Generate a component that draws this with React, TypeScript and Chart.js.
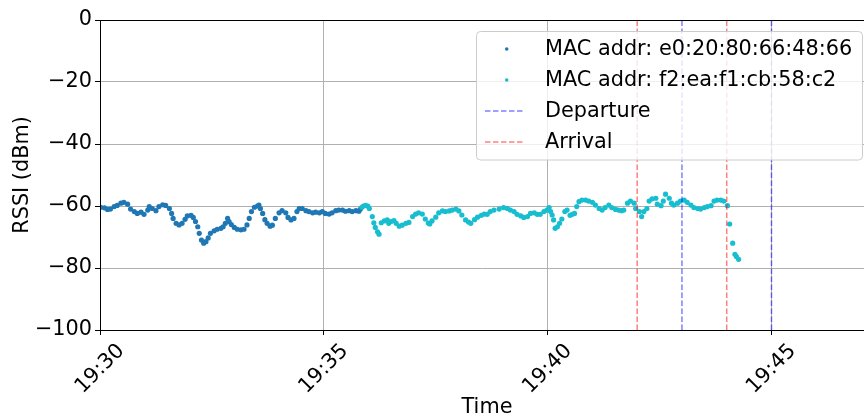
import { useEffect, useRef } from "react";
import { Chart, registerables } from "chart.js";

Chart.register(...registerables);

// Clock time at x = 0; every x value below is seconds after this moment.
const DAY_START = "19:30";

// Tag e0:20:80:66:48:66 — seconds after 19:30 and RSSI in dBm.
const tagATimes = [
  1, 6, 10, 14, 19, 23, 28, 32, 37, 41, 46, 50, 55, 59, 64, 66, 70, 75, 79, 84,
  88, 93, 96, 98, 102, 106, 110, 114, 117, 122, 125, 128, 131, 133, 136, 139, 142, 145, 148, 153,
  157, 162, 165, 168, 171, 173, 176, 180, 184, 189, 193, 197, 200, 203, 207, 211, 213, 215, 218, 221,
  224, 228, 231, 235, 240, 244, 249, 252, 256, 260, 264, 267, 271, 276, 280, 285, 289, 294, 298, 302,
  307, 311, 316, 320, 325, 329, 334, 338, 343, 347, 349,
];
const tagARssi = [
  -60.4, -60.6, -61.1, -61.0, -60.2, -59.8, -59.1, -58.8, -59.4, -61.0, -61.8, -62.4, -62.0, -62.7, -61.3, -60.2, -60.8, -61.5, -60.2, -59.6,
  -59.8, -60.8, -62.4, -64.0, -65.6, -66.1, -65.6, -64.3, -63.2, -63.0, -63.7, -65.0, -66.7, -68.8, -71.0, -72.0, -71.5, -70.3, -68.8, -68.0,
  -67.5, -67.2, -66.7, -65.6, -64.0, -65.0, -66.0, -66.9, -67.5, -67.7, -67.5, -66.1, -64.0, -61.8, -60.4, -60.0, -59.7, -60.8, -62.4, -64.4,
  -65.6, -66.5, -66.2, -64.0, -62.2, -61.5, -62.2, -63.7, -64.5, -64.0, -61.8, -60.8, -60.8, -61.5, -61.8, -62.2, -62.0, -62.2, -61.8, -62.4,
  -62.6, -62.2, -61.5, -61.3, -61.3, -61.7, -61.5, -61.8, -61.5, -61.7, -61.0,
];

// Tag f2:ea:f1:cb:58:c2 — seconds after 19:30 and RSSI in dBm.
const tagBTimes = [
  351, 353, 356, 359, 361, 365, 367, 369, 372, 374, 377, 381, 385, 387, 390, 394, 397, 401, 405, 410,
  414, 419, 423, 427, 432, 436, 440, 442, 445, 450, 454, 459, 463, 468, 472, 477, 481, 485, 490, 494,
  497, 502, 506, 511, 515, 519, 523, 528, 535, 541, 546, 550, 555, 559, 564, 568, 573, 577, 582, 586,
  590, 595, 599, 602, 604, 606, 608, 610, 613, 616, 619, 623, 626, 630, 633, 636, 639, 642, 646, 651,
  655, 660, 664, 669, 673, 677, 682, 686, 691, 695, 699, 702, 707, 711, 716, 718, 723, 726, 729, 733,
  736, 740, 745, 747, 752, 755, 758, 763, 766, 769, 774, 778, 783, 787, 792, 796, 801, 805, 810, 814,
  819, 823, 827, 832, 836, 841, 844, 848, 851, 853, 856,
];
const tagBRssi = [
  -60.4, -60.0, -59.8, -60.0, -60.8, -63.4, -65.4, -66.9, -68.3, -69.1, -65.4, -64.8, -64.5, -65.6, -65.0, -64.7, -65.6, -66.5, -66.2, -65.6,
  -65.3, -63.4, -62.6, -62.2, -62.6, -64.2, -65.5, -65.8, -64.8, -63.6, -62.2, -61.6, -61.8, -61.6, -61.3, -61.0, -61.6, -62.9, -64.5, -65.2,
  -65.6, -64.4, -63.6, -63.0, -62.6, -62.7, -61.8, -61.3, -61.0, -60.5, -60.8, -61.3, -61.8, -62.7, -63.2, -63.7, -63.4, -62.4, -62.2, -62.7,
  -62.7, -61.8, -61.3, -60.5, -61.8, -62.9, -64.5, -67.2, -66.7, -65.6, -64.2, -61.8, -61.3, -63.0, -62.7, -62.4, -60.2, -58.6, -58.1, -58.1,
  -58.4, -58.8, -59.7, -60.8, -61.3, -60.5, -59.7, -60.5, -61.1, -61.3, -61.5, -61.3, -59.1, -58.4, -59.1, -60.8, -61.8, -63.4, -61.8, -60.8,
  -58.4, -57.7, -57.5, -59.4, -59.9, -58.4, -56.2, -57.5, -59.1, -59.7, -59.1, -58.4, -58.1, -58.8, -59.7, -60.5, -60.8, -61.0, -60.5, -60.2,
  -59.9, -58.4, -58.1, -58.1, -58.4, -59.9, -65.8, -72.0, -75.6, -76.3, -77.2,
];

const seriesLabels = ["MAC addr: e0:20:80:66:48:66", "MAC addr: f2:ea:f1:cb:58:c2"];
const departureTimes = ["19:43", "19:45"];
const arrivalTimes = ["19:42", "19:44"];
const xTickLabels = ["19:30", "19:35", "19:40", "19:45"];
const yTickValues = [0, -20, -40, -60, -80, -100];
const eventLabels = ["Departure", "Arrival"];

const COLOR_A = "#1f77b4";
const COLOR_B = "#17becf";
const COLOR_DEPART = "rgba(0, 0, 255, 0.5)";
const COLOR_ARRIVE = "rgba(255, 0, 0, 0.5)";
const FONT_FAMILY = "'DejaVu Sans', sans-serif";
const FONT_SIZE = 20.8;
const FONT = `${FONT_SIZE}px ${FONT_FAMILY}`;
const DASH = [5.5, 2.5];
const X_MAX = 1024;

function toSeconds(clock: string): number {
  const [h, m] = clock.split(":").map(Number);
  const [h0, m0] = DAY_START.split(":").map(Number);
  return (h * 60 + m - (h0 * 60 + m0)) * 60;
}

function points(times: number[], values: number[]) {
  return times.map((t, i) => ({ x: t, y: values[i] }));
}

function eventLine(clock: string, color: string) {
  const x = toSeconds(clock);
  return {
    type: "line" as const,
    data: [
      { x, y: yTickValues[yTickValues.length - 1] },
      { x, y: yTickValues[0] },
    ],
    borderColor: color,
    borderWidth: 1.5,
    borderDash: DASH,
    pointRadius: 0,
    showLine: true,
    fill: false,
    order: 0,
  };
}

// Spines, rotated time labels, axis titles and the legend box.
const decorations = {
  id: "decorations",
  afterDraw(chart: any) {
    const { ctx, chartArea } = chart;
    const xs = chart.scales.x;
    const { left, right, top, bottom } = chartArea;

    ctx.save();
    ctx.strokeStyle = "#000";
    ctx.lineWidth = 1;
    ctx.beginPath();
    ctx.moveTo(Math.round(left) + 0.5, top);
    ctx.lineTo(Math.round(left) + 0.5, bottom + 0.5);
    ctx.moveTo(left, Math.round(top) + 0.5);
    ctx.lineTo(chart.width, Math.round(top) + 0.5);
    ctx.moveTo(left, Math.round(bottom) + 0.5);
    ctx.lineTo(chart.width, Math.round(bottom) + 0.5);
    ctx.stroke();

    ctx.fillStyle = "#000";
    ctx.font = FONT;

    // x tick labels, rotated 45 degrees and centred under each tick
    ctx.textAlign = "center";
    ctx.textBaseline = "middle";
    for (const label of xTickLabels) {
      const x = xs.getPixelForValue(toSeconds(label));
      ctx.save();
      ctx.translate(x, bottom + 39);
      ctx.rotate(-Math.PI / 4);
      ctx.fillText(label, 0, 0);
      ctx.restore();
    }

    // axis titles
    ctx.save();
    ctx.translate(22.5, (top + bottom) / 2);
    ctx.rotate(-Math.PI / 2);
    ctx.fillText("RSSI (dBm)", 0, 0);
    ctx.restore();
    ctx.textBaseline = "alphabetic";
    ctx.fillText("Time", (left + right) / 2 + 5, 413);

    // legend
    const bx = 476.5, by = 31.5, bw = 386, bh = 128.5;
    ctx.beginPath();
    ctx.roundRect(bx, by, bw, bh, 4);
    ctx.fillStyle = "rgba(255,255,255,0.8)";
    ctx.fill();
    ctx.strokeStyle = "#cccccc";
    ctx.lineWidth = 1;
    ctx.stroke();

    const rowBase = 55;
    const rowGap = 31;
    const rows = [
      { kind: "dot", color: COLOR_A, text: seriesLabels[0] },
      { kind: "dot", color: COLOR_B, text: seriesLabels[1] },
      { kind: "dash", color: COLOR_DEPART, text: eventLabels[0] },
      { kind: "dash", color: COLOR_ARRIVE, text: eventLabels[1] },
    ];
    rows.forEach((row, i) => {
      const base = rowBase + i * rowGap;
      const mid = base - 6;
      if (row.kind === "dot") {
        ctx.beginPath();
        ctx.arc(506.7, mid, 1.8, 0, Math.PI * 2);
        ctx.fillStyle = row.color;
        ctx.fill();
      } else {
        ctx.save();
        ctx.strokeStyle = row.color;
        ctx.lineWidth = 1.5;
        ctx.setLineDash(DASH);
        ctx.beginPath();
        ctx.moveTo(485, mid);
        ctx.lineTo(525, mid);
        ctx.stroke();
        ctx.restore();
      }
      ctx.fillStyle = "#000";
      ctx.textAlign = "left";
      ctx.fillText(row.text, 545, base);
    });
    ctx.restore();
  },
};

export default function App() {
  const canvasRef = useRef<HTMLCanvasElement | null>(null);

  useEffect(() => {
    const canvas = canvasRef.current;
    if (!canvas) return;
    const xTickValues = xTickLabels.map(toSeconds);

    const chart = new Chart(canvas, {
      type: "scatter",
      data: {
        datasets: [
          ...departureTimes.map((t) => eventLine(t, COLOR_DEPART)),
          ...arrivalTimes.map((t) => eventLine(t, COLOR_ARRIVE)),
          {
            label: seriesLabels[0],
            data: points(tagATimes, tagARssi),
            backgroundColor: COLOR_A,
            borderWidth: 0,
            pointRadius: 2.6,
            order: 2,
          },
          {
            label: seriesLabels[1],
            data: points(tagBTimes, tagBRssi),
            backgroundColor: COLOR_B,
            borderWidth: 0,
            pointRadius: 2.6,
            order: 1,
          },
        ] as any,
      },
      options: {
        animation: false,
        responsive: false,
        events: [],
        layout: { autoPadding: false, padding: { top: 20, right: 0, bottom: 0, left: 0 } },
        plugins: { legend: { display: false }, tooltip: { enabled: false } },
        scales: {
          x: {
            type: "linear",
            min: 0,
            max: X_MAX,
            afterFit: (s: any) => {
              s.height = 87;
              s.paddingLeft = 0;
              s.paddingRight = 0;
            },
            afterBuildTicks: (s: any) => {
              s.ticks = xTickValues.map((v) => ({ value: v }));
            },
            ticks: { display: false },
            grid: { color: "#b0b0b0", lineWidth: 1, drawTicks: true, tickLength: 5, tickColor: "#000" },
            border: { display: true, color: "#000", width: 1 },
          },
          y: {
            type: "linear",
            min: yTickValues[yTickValues.length - 1],
            max: yTickValues[0],
            afterFit: (s: any) => {
              s.width = 100;
              s.paddingLeft = 0;
              s.paddingRight = 0;
            },
            afterBuildTicks: (s: any) => {
              s.ticks = yTickValues.map((v) => ({ value: v }));
            },
            ticks: {
              color: "#000",
              padding: 3,
              font: { family: FONT_FAMILY, size: FONT_SIZE },
              callback: (v: any) => (Number(v) === 0 ? "0" : `\u2212${Math.abs(Number(v))}`),
            },
            grid: { color: "#b0b0b0", lineWidth: 1, drawTicks: true, tickLength: 5, tickColor: "#000" },
            border: { display: true, color: "#000", width: 1 },
          },
        },
      },
      plugins: [decorations],
    });

    return () => chart.destroy();
  }, []);

  return (
    <div style={{ position: "fixed", left: 0, top: 0, width: 864, height: 417, background: "#fff" }}>
      <canvas ref={canvasRef} width={864} height={417} style={{ display: "block" }} />
    </div>
  );
}
